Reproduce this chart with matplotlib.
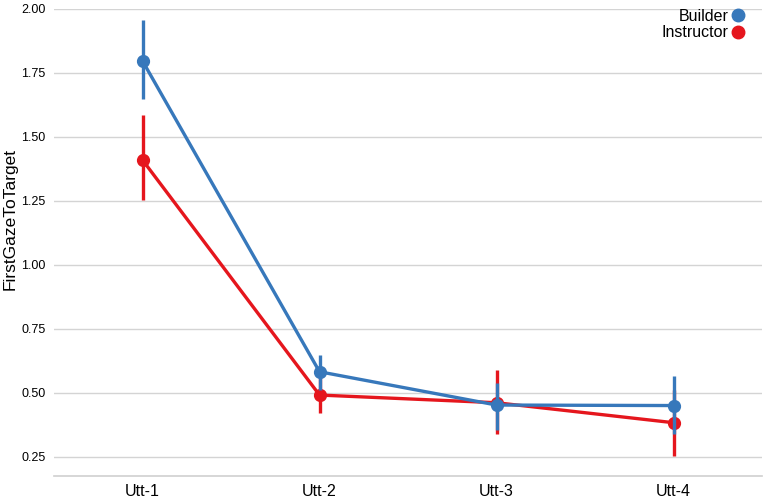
import matplotlib
matplotlib.use("Agg")
import matplotlib.pyplot as plt
import numpy as np

plt.rcParams['font.family'] = ['Liberation Sans', 'DejaVu Sans']

categories = ["Utt-1", "Utt-2", "Utt-3", "Utt-4"]
builder_mean = [1.796, 0.582, 0.452, 0.450]
builder_lo = [1.646, 0.512, 0.355, 0.340]
builder_hi = [1.955, 0.647, 0.537, 0.567]
instructor_mean = [1.409, 0.491, 0.461, 0.383]
instructor_lo = [1.253, 0.420, 0.340, 0.254]
instructor_hi = [1.585, 0.560, 0.589, 0.510]
yticks = [0.25, 0.50, 0.75, 1.00, 1.25, 1.50, 1.75, 2.00]

blue = "#3778bb"
red = "#e5161d"

fig = plt.figure(figsize=(7.65, 4.99), dpi=100)
ax = fig.add_axes([54/765, 1 - 475.7/499, (762-54)/765, (475.7-8.7)/499])

x = np.arange(len(categories))
series = [("Instructor", instructor_mean, instructor_lo, instructor_hi, red),
          ("Builder", builder_mean, builder_lo, builder_hi, blue)]
for name, m, lo, hi, c in series:
    ax.vlines(x, lo, hi, color=c, lw=2.4, zorder=3)
    ax.plot(x, m, color=c, lw=2.4, marker='o', markersize=8.5, zorder=3, label=name)

ax.set_xlim(-0.5, 3.5)
ax.set_ylim(0.176, 2.0)
ax.set_xticks(x)
ax.set_xticklabels(categories, fontsize=11.5)
ax.set_yticks(yticks)
ax.set_yticklabels([f"{v:.2f}" for v in yticks], fontsize=9)
ax.set_ylabel("FirstGazeToTarget", fontsize=12.5)
ax.yaxis.set_label_coords(-0.052, 0.55)
ax.grid(axis='y', color='#d4d4d4', lw=1)
ax.set_axisbelow(True)
for s in ['top', 'right', 'left']:
    ax.spines[s].set_visible(False)
ax.spines['bottom'].set_color('#cfcfcf')
ax.spines['bottom'].set_linewidth(1.2)
ax.tick_params(axis='both', length=0, pad=6)

leg_handles = [plt.Line2D([], [], ls='none', marker='o', color=blue, markersize=9),
               plt.Line2D([], [], ls='none', marker='o', color=red, markersize=9)]
ax.legend(leg_handles, ["Builder", "Instructor"], loc='upper right', markerfirst=False,
          frameon=False, fontsize=11.5, handlelength=0.6, handletextpad=0.3,
          labelspacing=0.12, borderaxespad=0.0, bbox_to_anchor=(0.982, 1.014))

fig.savefig("out.png", dpi=100)
